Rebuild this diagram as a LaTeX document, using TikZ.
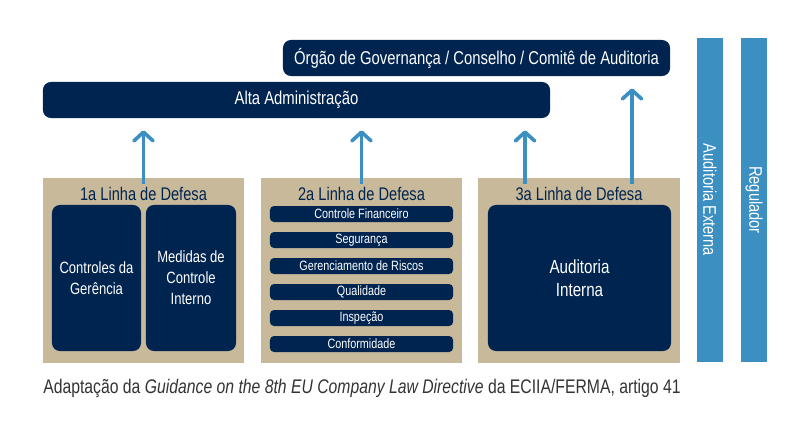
\documentclass[tikz,border=0pt]{standalone}
\usepackage{fontspec}
\setmainfont[FakeStretch=0.8]{Liberation Sans}
\usepackage{xcolor}
\usetikzlibrary{arrows.meta}

\definecolor{navy}{RGB}{0,36,80}
\definecolor{tan}{RGB}{200,185,154}
\definecolor{barblue}{RGB}{59,143,193}

\tikzset{
    topbox/.style={fill=navy,rounded corners=0.2cm,text=white,minimum height=0.9cm,font=\fontsize{13.2}{15}\selectfont},
    linebox/.style={fill=tan,minimum width=5.025cm,minimum height=4.625cm},
    inbox/.style={fill=navy,rounded corners=0.2cm,text=white,align=center,minimum height=3.65cm,font=\fontsize{11.6}{15}\selectfont},
    itembox/.style={fill=navy,rounded corners=0.1cm,text=white,minimum width=4.575cm,minimum height=0.4cm,inner sep=0pt,font=\fontsize{9.6}{11}\selectfont},
    sidebar/.style={fill=barblue,minimum width=0.65cm,minimum height=8.1cm,inner sep=0pt},
    uparrow/.style={-{Straight Barb[length=2.2mm,width=4.8mm,round]},barblue,line width=2.6pt}
}

\begin{document}
\begin{tikzpicture}[x=0.025cm,y=-0.025cm]
        \useasboundingbox (0,0) rectangle (800,420);
        % top bodies
        \node[topbox,minimum width=9.675cm] (orgao) at (476.5,58) {Órgão de Governança / Conselho / Comitê de Auditoria};
        \node[topbox,minimum width=12.675cm] (alta) at (296.5,100) {Alta Administração};

        % the three lines of defence
        \node[linebox] (l1) at (143.5,270.5) {};
        \node[linebox] (l2) at (361.5,270.5) {};
        \node[linebox,minimum width=5.05cm] (l3) at (579,270.5) {};
        \foreach \n/\x in {l1/1a,l2/2a,l3/3a}{
            \node[text=navy,font=\fontsize{13}{15}\selectfont] (\n t) at (\n.north) [yshift=-0.4cm] {\x\ Linha de Defesa};
        }
        \node[inbox,minimum width=2.225cm] (gerencia) at (96.5,278) {Controles da\\Gerência};
        \node[inbox,minimum width=2.25cm] (medidas) at (191,278) {Medidas de\\Controle\\Interno};
        \foreach \i/\t in {0/Controle Financeiro,1/Segurança,2/Gerenciamento de Riscos,3/Qualidade,4/Inspeção,5/Conformidade}{
            \node[itembox] (item\i) at (361.5,214+26*\i) {\t};
        }
        \node[inbox,minimum width=4.575cm,font=\fontsize{13.5}{16.5}\selectfont] (interna) at (579.5,278) {Auditoria\\Interna};

        % outside bodies
        \node[sidebar] (externa) at (710,200) {};
        \node[sidebar] (regulador) at (754,200) {};
        \node[rotate=-90,text=white,font=\fontsize{13}{15}\selectfont] at (externa) {Auditoria Externa};
        \node[rotate=-90,text=white,font=\fontsize{13}{15}\selectfont] at (regulador) {Regulador};

        % reporting arrows
        \coordinate (c3) at (525,178);
        \coordinate (c4) at (632,178);
        \draw[uparrow] ([yshift=-0.15cm]l1.north) -- ([yshift=-0.3cm]l1.north |- alta.south);
        \draw[uparrow] ([yshift=-0.15cm]l2.north) -- ([yshift=-0.3cm]l2.north |- alta.south);
        \draw[uparrow] ([yshift=-0.15cm]c3) -- ([yshift=-0.3cm]c3 |- alta.south);
        \draw[uparrow] ([yshift=-0.15cm]c4) -- ([yshift=-0.3cm]c4 |- orgao.south);

        \node[anchor=base west,inner sep=0pt,text=black!80,font=\fontsize{14}{16}\selectfont] (fonte) at (43,393) {Adaptação da \textit{Guidance on the 8th EU Company Law Directive} da ECIIA/FERMA, artigo 41};
    \end{tikzpicture}
\end{document}
